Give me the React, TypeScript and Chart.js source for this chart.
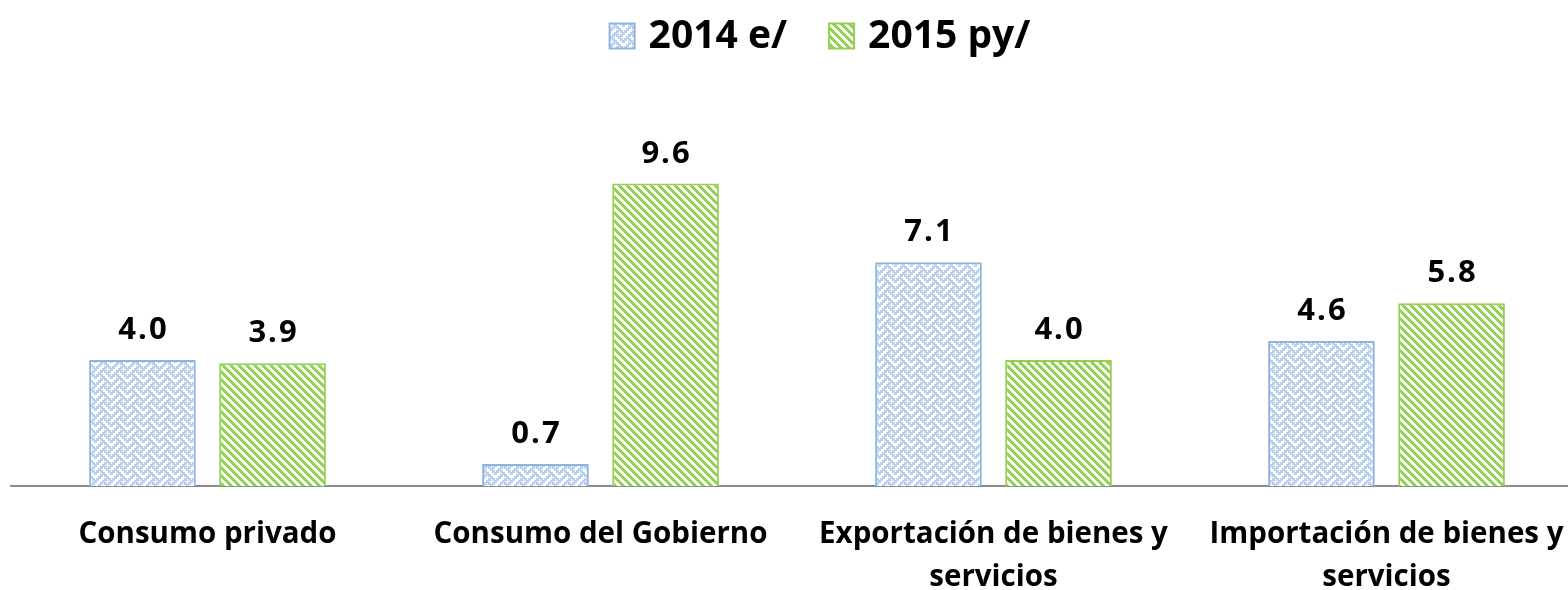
import React, { useEffect, useRef } from "react";
import { Chart, registerables } from "chart.js";

Chart.register(...registerables);

const categories: (string | string[])[] = [
  "Consumo privado",
  "Consumo del Gobierno",
  ["Exportación de bienes y", "servicios"],
  ["Importación de bienes y", "servicios"],
];
const series2014 = [4.0, 0.7, 7.1, 4.6];
const series2015 = [3.9, 9.6, 4.0, 5.8];
const seriesNames = ["2014 e/", "2015 py/"];

const FONT = "'Open Sans', Lato, sans-serif";

function weavePattern(ctx: CanvasRenderingContext2D): CanvasPattern | string {
  const bits = [0x11, 0x2a, 0x44, 0xa2, 0x11, 0x28, 0x44, 0x8a];
  const s = 2;
  const c = document.createElement("canvas");
  c.width = 8 * s;
  c.height = 8 * s;
  const g = c.getContext("2d")!;
  g.fillStyle = "#ffffff";
  g.fillRect(0, 0, c.width, c.height);
  g.fillStyle = "#b9d0ef";
  for (let y = 0; y < 8; y++) {
    for (let x = 0; x < 8; x++) {
      if (bits[y] & (0x80 >> x)) {
        for (let dy = 0; dy < 3; dy++)
          for (let dx = 0; dx < 3; dx++)
            g.fillRect((x * s + dx) % c.width, (y * s + dy) % c.height, 1, 1);
      }
    }
  }
  return ctx.createPattern(c, "repeat") || "#b9d0ef";
}

function stripePattern(ctx: CanvasRenderingContext2D): CanvasPattern | string {
  const c = document.createElement("canvas");
  c.width = 16;
  c.height = 16;
  const g = c.getContext("2d")!;
  g.fillStyle = "#ffffff";
  g.fillRect(0, 0, 16, 16);
  g.fillStyle = "#92d050";
  for (let y = 0; y < 16; y++) {
    for (let x = 0; x < 16; x++) {
      const d = (((x - y) % 8) + 8) % 8;
      if (d < 4) g.fillRect(x, y, 1, 1);
    }
  }
  return ctx.createPattern(c, "repeat") || "#92d050";
}

const labelPlugin = {
  id: "valueLabels",
  afterDatasetsDraw(chart: any) {
    const ctx = chart.ctx;
    ctx.save();
    ctx.fillStyle = "#000";
    ctx.font = `bold 31px ${FONT}`;
    (ctx as any).letterSpacing = "2px";
    ctx.textAlign = "center";
    ctx.textBaseline = "alphabetic";
    chart.data.datasets.forEach((ds: any, i: number) => {
      const meta = chart.getDatasetMeta(i);
      meta.data.forEach((bar: any, j: number) => {
        const v = ds.data[j] as number;
        ctx.fillText(v.toFixed(1), bar.x + 1, bar.y - 21);
      });
    });
    (ctx as any).letterSpacing = "0px";
    ctx.restore();
  },
};

const legendPlugin = {
  id: "customLegend",
  afterDraw(chart: any) {
    const ctx = chart.ctx;
    ctx.save();
    ctx.font = `bold 39px ${FONT}`;
    ctx.textBaseline = "middle";
    ctx.textAlign = "left";
    const items = chart.data.datasets.map((ds: any, i: number) => ({
      text: seriesNames[i],
      fill: ds.backgroundColor,
      stroke: ds.borderColor,
    }));
    const box = 25;
    const gapText = 14;
    const gapItem = 42;
    let total = 0;
    const widths = items.map((it: any) => ctx.measureText(it.text).width);
    items.forEach((_: any, i: number) => {
      total += box + gapText + widths[i];
      if (i < items.length - 1) total += gapItem;
    });
    let x = 820 - total / 2;
    const cy = 36;
    items.forEach((it: any, i: number) => {
      ctx.fillStyle = it.fill;
      ctx.fillRect(x, cy - box / 2, box, box);
      ctx.strokeStyle = it.stroke;
      ctx.lineWidth = 2;
      ctx.strokeRect(x, cy - box / 2, box, box);
      ctx.fillStyle = "#000";
      ctx.fillText(it.text, x + box + gapText, cy + 1);
      x += box + gapText + widths[i] + gapItem;
    });
    ctx.restore();
  },
};

export default function App() {
  const ref = useRef<HTMLCanvasElement>(null);
  useEffect(() => {
    document.body.style.margin = "0";
    document.body.style.overflow = "hidden";
    const canvas = ref.current!;
    const ctx = canvas.getContext("2d")!;
    const chart = new Chart(canvas, {
      type: "bar",
      data: {
        labels: categories,
        datasets: [
          {
            label: seriesNames[0],
            data: series2014,
            backgroundColor: weavePattern(ctx) as any,
            borderColor: "#8eb4e3",
            borderWidth: 2,
            categoryPercentage: 0.662,
            barPercentage: 0.82,
          },
          {
            label: seriesNames[1],
            data: series2015,
            backgroundColor: stripePattern(ctx) as any,
            borderColor: "#92d050",
            borderWidth: 2,
            categoryPercentage: 0.662,
            barPercentage: 0.82,
          },
        ],
      },
      options: {
        responsive: false,
        animation: false,
        layout: { padding: { left: 11, right: 17, top: 108, bottom: 0 } },
        plugins: {
          legend: { display: false },
          tooltip: { enabled: false },
        },
        scales: {
          x: {
            grid: { display: false, drawTicks: false },
            border: { display: true, color: "#8c8c8c", width: 2 },
            ticks: {
              color: "#000",
              font: { family: FONT, size: 29.5, weight: "bold", lineHeight: 1.43 },
              padding: 28,
              maxRotation: 0,
              autoSkip: false,
            },
            afterFit: (scale: any) => {
              scale.height = 104;
            },
          },
          y: {
            display: false,
            min: 0,
            max: 12,
          },
        },
      },
      plugins: [labelPlugin, legendPlugin],
    });
    return () => chart.destroy();
  }, []);
  return (
    <div style={{ position: "fixed", left: 0, top: 0, width: 1568, height: 590, overflow: "hidden", background: "#fff" }}>
      <canvas ref={ref} width={1600} height={590} style={{ display: "block", width: 1600, height: 590 }} />
    </div>
  );
}
